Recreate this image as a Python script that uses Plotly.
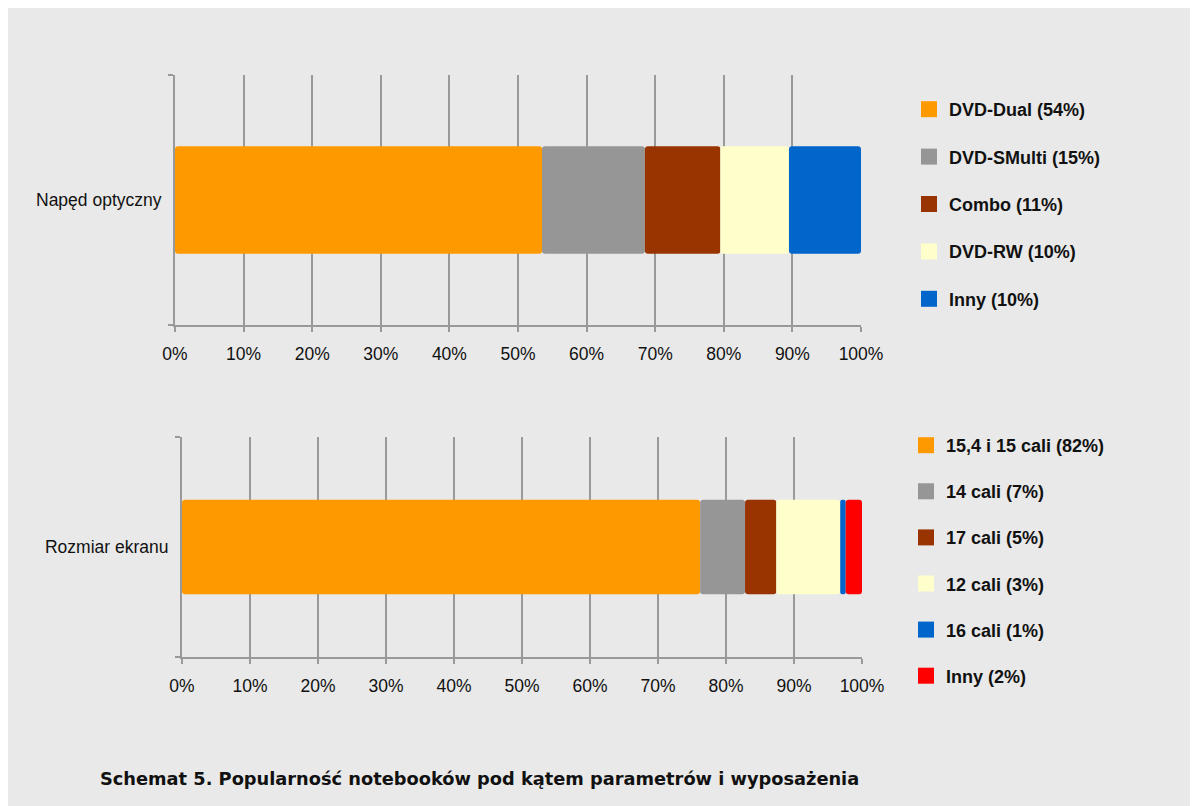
import plotly.graph_objects as go

# Figure placed by the page's default 8px body margin; viewport clips right/bottom
W, H = 1198, 806
OFF = 8  # page offset of the figure

# ---- data ----
cat_top = ["Napęd optyczny"]
labels_top = ["DVD-Dual (54%)", "DVD-SMulti (15%)", "Combo (11%)", "DVD-RW (10%)", "Inny (10%)"]
values_top = [53.5, 15.0, 11.0, 10.0, 10.5]
colors_top = ["#ff9900", "#969696", "#993300", "#ffffcc", "#0066cc"]

cat_bot = ["Rozmiar ekranu"]
labels_bot = ["15,4 i 15 cali (82%)", "14 cali (7%)", "17 cali (5%)", "12 cali (3%)", "16 cali (1%)", "Inny (2%)"]
values_bot = [76.2, 6.6, 4.6, 9.4, 0.8, 2.4]
colors_bot = ["#ff9900", "#969696", "#993300", "#ffffcc", "#0066cc", "#ff0000"]

x_ticks = list(range(0, 101, 10))
x_ticktext = [f"{v}%" for v in x_ticks]

title_text = "Schemat 5. Popularność notebooków pod kątem parametrów i wyposażenia"

fig = go.Figure()

def px_x(p):  # page pixel -> paper fraction
    return (p - OFF) / W

def px_y(p):
    return 1 - (p - OFF) / H

def add_stack(cat, labels, values, colors, xa, ya, legend, group_prefix):
    base = 0.0
    for lab, val, col in zip(labels, values, colors):
        g = f"{group_prefix}{lab}"
        fig.add_trace(go.Bar(
            x=[val], y=cat, base=[base], orientation="h",
            marker=dict(color=col, cornerradius=3, line=dict(width=0)),
            width=0.43, name=lab, showlegend=False, legendgroup=g,
            xaxis=xa, yaxis=ya, hoverinfo="name",
        ))
        fig.add_trace(go.Scatter(
            x=[None], y=[None], mode="markers",
            marker=dict(symbol="square", size=16, color=col),
            name=lab, legend=legend, legendgroup=g, showlegend=True,
            xaxis=xa, yaxis=ya,
        ))
        base += val

add_stack(cat_top, labels_top, values_top, colors_top, "x", "y", "legend", "a")
add_stack(cat_bot, labels_bot, values_bot, colors_bot, "x2", "y2", "legend2", "b")

axis_col = "#999999"
tickfont = dict(family="Liberation Sans, Arial, sans-serif", size=17.5, color="#111111")

xcommon = dict(
    range=[0, 100], tickmode="array", tickvals=x_ticks, ticktext=x_ticktext,
    showgrid=True, gridcolor=axis_col, gridwidth=2,
    showline=True, linecolor=axis_col, linewidth=2,
    ticks="outside", ticklen=5, tickwidth=2, tickcolor=axis_col,
    tickfont=tickfont, zeroline=False, fixedrange=True,
    ticklabelstandoff=7, automargin=False,
)
ycommon = dict(
    type="category", range=[-0.5, 0.5], tickson="boundaries",
    showgrid=False, showline=True, linecolor=axis_col, linewidth=2,
    ticks="outside", ticklen=5, tickwidth=2, tickcolor=axis_col,
    tickfont=tickfont, fixedrange=True, ticklabelstandoff=8,
    automargin=False,
)

legfont = dict(family="Liberation Sans, Arial, sans-serif", size=18, color="#111111", weight="bold")

fig.update_layout(
    width=W, height=H,
    margin=dict(l=0, r=0, t=0, b=0, autoexpand=False),
    paper_bgcolor="#e9e9e9", plot_bgcolor="rgba(0,0,0,0)",
    barmode="overlay",
    xaxis=dict(domain=[px_x(175), px_x(861)], anchor="y", **xcommon),
    yaxis=dict(domain=[px_y(325), px_y(75)], anchor="x", **ycommon),
    xaxis2=dict(domain=[px_x(182), px_x(862)], anchor="y2", **xcommon),
    yaxis2=dict(domain=[px_y(657), px_y(437)], anchor="x2", **ycommon),
    legend=dict(x=px_x(909), y=px_y(91), xanchor="left", yanchor="top",
                font=legfont, bgcolor="rgba(0,0,0,0)", traceorder="grouped",
                tracegroupgap=21, itemclick=False, itemdoubleclick=False),
    legend2=dict(x=px_x(906), y=px_y(427), xanchor="left", yanchor="top",
                 font=legfont, bgcolor="rgba(0,0,0,0)", traceorder="grouped",
                 tracegroupgap=19.7, itemclick=False, itemdoubleclick=False),
    showlegend=True,
    annotations=[dict(text=f"<b>{title_text}</b>", xref="paper", yref="paper",
                      x=px_x(98), y=px_y(778), xanchor="left", yanchor="middle",
                      showarrow=False,
                      font=dict(family="DejaVu Sans, sans-serif", size=17.8, color="#111111"))],
)

fig.write_html("out.html")
